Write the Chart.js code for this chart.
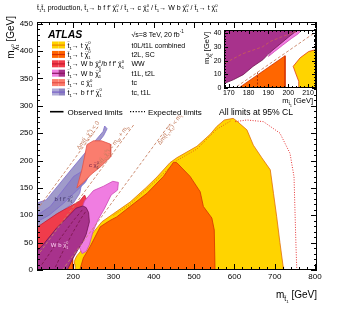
<!DOCTYPE html>
<html>
<head>
<meta charset="utf-8">
<script src="https://cdn.jsdelivr.net/npm/chart.js@4"></script>
<style>
html, body { margin: 0; padding: 0; background: #fff; }
#wrap { position: relative; width: 338px; height: 311px; }
#main { position: absolute; left: 0; top: 0; }
#inset { position: absolute; left: 198px; top: 22px; }
</style>
</head>
<body>
<div id="wrap">
  <canvas id="main" width="338" height="311"></canvas>
  <canvas id="inset" width="122" height="88"></canvas>
</div>
<script>
const FONT = '"Liberation Sans", Arial, Helvetica, sans-serif';

// axis ticks
const xTicks = [200, 300, 400, 500, 600, 700, 800];
const yTicks = [0, 50, 100, 150, 200, 250, 300, 350, 400, 450];
const insetXTicks = [170, 180, 190, 200, 210];
const insetYTicks = [0, 10, 20, 30, 40];

// legend
const decayLabels = ['{t}→ t {x}', '{t}→ t {x}', '{t}→ W b {x}/b f f′ {x}', '{t}→ W b {x}', '{t}→ c {x}', '{t}→ b f f′ {x}'];
const analysisLabels = ['t0L/t1L combined', 't2L, SC', 'WW', 't1L, t2L', 'tc', 'tc, t1L'];
const titleText = '{t}{t} production, {t}→ b f f′ {x} / {t}→ c {x} / {t}→ W b {x} / {t}→ t {x}';

// excluded regions, [m_stop, m_chi] in GeV
const obsT0L1L = [[205,-3],[205,5],[204,11],[203,16],[206,22],[210,27],[217,33],[240,60],[271,88],[300,103],[341,124],[380,150],[408,170],[440,196],[457,205],[507,226],[540,248],[556,262],[575,274],[597,277],[606,272],[631,256],[647,228],[668,205],[689,183],[697,140],[705,97],[713,50],[721,6],[722,-3]];
const obsT2L = [[215,-3],[225,22],[242,43],[267,79],[290,90],[308,97],[341,116],[383,140],[424,171],[449,197],[457,196],[490,171],[515,143],[523,116],[544,95],[550,73],[552,-3]];
const obsT2LLow = [[174,-3],[174,0],[198.4,23.5],[198.4,-3]];
const obsBffTc = [[100,80],[100,120],[133,128],[200,188],[250,232],[274,253],[278,263],[284,258],[275,245],[262,233],[245,212],[232,190],[222,162],[216,140],[200,122],[150,97],[100,72]];
const obsBffT1L = [[100,95],[143,116],[201,171],[232,185],[242,176],[230,160],[176,122],[140,100],[100,84]];
const obsWW = [[100,72],[112,79],[160,103],[216,126],[228,137],[234,128],[226,112],[210,90],[195,70],[175,40],[160,15],[152,-3],[100,-3]];
const obsT2LWb = [[210,50],[215,100],[228,126],[250,145],[275,153],[298,162],[312,160],[310,146],[294,137],[278,113],[261,91],[249,70],[240,46],[232,34],[222,30]];
const obsT1LWb = [[100,-3],[100,30],[108,33],[125,46],[158,76],[190,100],[207,113],[224,117],[232,114],[238,105],[240,88],[232,65],[224,52],[210,35],[199,21],[183,-3]];
const obsTc = [[209,150],[222,185],[234,229],[250,236],[270,236],[292,230],[293,207],[270,190],[245,175],[225,160]];
// expected limits
const expT0L1L = [[602,271],[631,274],[672,271],[713,250],[738,213],[748,170],[751,91],[753,40],[755,-3]];
const expT0L1LTop = [[300,100],[341,120],[408,165],[457,200],[507,221],[556,257],[590,272]];
const expT1LWb = [[150,-3],[175,35],[200,70],[220,95],[232,108]];
const expT1LWb2 = [[122,10],[160,50],[200,90],[225,112]];
// kinematic boundaries
const kinDm0 = [[110,110],[262,262]];
const kinDmWb = [[110,25],[350,265]];
const kinDmTop = [[173,0],[440,267]];
const kinLabels = ['Δm({t},{x}) < 0', 'Δm({t},{x}) < {mW} + {mb}', 'Δm({t},{x}) < {mtop}'];
const kinLabelPos = [[236, 246], [294, 224], [439, 257]];

// inset (low mass) regions
const insetT1LWb = [[166,3],[168.2,3.6],[172.3,6],[177.3,9.7],[182.2,15.7],[187.2,20.6],[189.6,24.2],[191.3,26.6],[195.4,31.5],[200.4,37.5],[203.7,41.2],[205,44],[166,44]];
const insetT2LWb = [[190,23],[193,26.5],[197,31],[201.5,36],[205,39.5],[208,44],[205,44],[203.7,41.2],[200.4,37.5],[195.4,31.5],[191.3,26.6]];
const insetT2L = [[174,-1],[198.4,23.5],[198.4,-1]];
const insetT0L1L = [[205.3,-1],[205.3,4.8],[203.7,10.9],[202.5,15.8],[206,22],[210.3,26.6],[214,28],[216,28],[216,-1]];
const insetExpT1L = [[166,16.5],[177,25],[187,30],[191,34],[197,37.5],[205,41.5],[210,44]];
const insetExpT2L = [[184.5,0],[184.5,11.5]];
const insetKinTop = [[172,-1],[216,43]];

const YELLOW = 'rgb(255,212,0)', ORANGE = 'rgb(255,102,0)', RED = 'rgb(240,60,75)';
const PINK = 'rgb(240,125,225)', MAG = 'rgb(168,50,140)', SALMON = 'rgb(250,125,110)';
const LAV = 'rgb(160,155,202)', LAV2 = 'rgb(142,132,193)', KIN = 'rgb(200,130,100)';

// ---- rich text helpers ----
const N = t => ({t: t, s: 1, dy: 0});
const STOP = [N('t'), {t: '~', s: 0.6, dy: -0.62, mode: 'over'}, {t: '1', s: 0.62, dy: 0.32}];
const CHI = [N('\u03c7'), {t: '~', s: 0.6, dy: -0.5, mode: 'over'}, {t: '0', s: 0.6, dy: -0.5, mode: 'noadv'}, {t: '1', s: 0.6, dy: 0.32}];
const sub = segs => segs.map(g => Object.assign({}, g, {s: g.s * 0.7, dy: g.dy * 0.7 + 0.3}));
const TOK = {
  '{t}': STOP, '{x}': CHI,
  '{mx}': [N('m')].concat(sub(CHI)), '{mt1}': [N('m')].concat(sub(STOP)),
  '{mW}': [N('m'), {t: 'W', s: 0.7, dy: 0.3}], '{mb}': [N('m'), {t: 'b', s: 0.7, dy: 0.3}],
  '{mtop}': [N('m'), {t: 't', s: 0.7, dy: 0.3}], '{-1}': [{t: '-1', s: 0.65, dy: -0.45}]
};
function parse(str) {
  return str.split(/(\{[^}]+\})/).filter(s => s).flatMap(s => TOK[s] || [N(s)]);
}
function rich(ctx, str, x, y, size, align, color, weight) {
  const segs = parse(str);
  const font = g => (weight || '') + ' ' + (size * g.s).toFixed(2) + 'px ' + FONT;
  let cx = 0, prevW = 0;
  const items = [];
  for (const g of segs) {
    ctx.font = font(g);
    const w = ctx.measureText(g.t).width;
    if (g.mode === 'over') items.push({g, x: cx - prevW / 2 - w / 2});
    else if (g.mode === 'noadv') items.push({g, x: cx});
    else { items.push({g, x: cx}); prevW = w; cx += w; }
  }
  const x0 = align === 'right' ? x - cx : align === 'center' ? x - cx / 2 : x;
  ctx.fillStyle = color;
  ctx.textAlign = 'left';
  ctx.textBaseline = 'alphabetic';
  for (const it of items) {
    ctx.font = font(it.g);
    ctx.fillText(it.g.t, x0 + it.x, y + it.g.dy * size);
  }
  return cx;
}

function drawFrame(ctx, a, xs, ys, o) {
  ctx.strokeStyle = '#000';
  ctx.lineWidth = 1;
  ctx.setLineDash([]);
  ctx.strokeRect(a.left + 0.5, a.top + 0.5, a.right - a.left - 1, a.bottom - a.top - 1);
  ctx.beginPath();
  for (let v = Math.ceil(xs.min / o.xMin) * o.xMin; v <= xs.max; v += o.xMin) {
    const px = Math.round(xs.getPixelForValue(v)) + 0.5;
    const L = Math.abs(v / o.xMaj - Math.round(v / o.xMaj)) < 1e-6 ? o.lMaj : o.lMin;
    ctx.moveTo(px, a.bottom); ctx.lineTo(px, a.bottom - L);
    ctx.moveTo(px, a.top); ctx.lineTo(px, a.top + L);
  }
  for (let v = Math.ceil(ys.min / o.yMin) * o.yMin; v <= ys.max; v += o.yMin) {
    const py = Math.round(ys.getPixelForValue(v)) + 0.5;
    const L = Math.abs(v / o.yMaj - Math.round(v / o.yMaj)) < 1e-6 ? o.lMaj : o.lMin;
    ctx.moveTo(a.left, py); ctx.lineTo(a.left + L, py);
    ctx.moveTo(a.right, py); ctx.lineTo(a.right - L, py);
  }
  ctx.stroke();
}

function toXY(pts) { return pts.map(p => ({x: p[0], y: p[1]})); }
function region(pts, fillColor, lineColor, order) {
  const d = toXY(pts);
  d.push(Object.assign({}, d[0]));
  return {data: d, showLine: true, fill: 'shape', backgroundColor: fillColor, borderColor: lineColor,
    borderWidth: 0.8, pointRadius: 0, order: order};
}
function curve(pts, color, dash, width, order) {
  return {data: toXY(pts), showLine: true, fill: false, borderColor: color, borderDash: dash,
    borderWidth: width, pointRadius: 0, order: order};
}

function scaleOpts(min, max, ticks, fit, size, pad) {
  return {
    type: 'linear', min: min, max: max,
    afterBuildTicks: s => { s.ticks = ticks.map(v => ({value: v})); },
    afterFit: fit,
    grid: {display: false, drawTicks: false},
    border: {display: false},
    ticks: {font: {family: FONT, size: size}, color: '#000', padding: pad, maxRotation: 0, autoSkip: false}
  };
}

const legendFills = [
  [YELLOW, YELLOW, 'rgb(235,130,0)'],
  [ORANGE, ORANGE, 'rgb(215,45,0)'],
  [RED, RED, 'rgb(200,25,45)'],
  [PINK, MAG, 'rgb(140,20,100)'],
  [SALMON, SALMON, 'rgb(230,80,70)'],
  ['rgb(175,170,215)', LAV2, 'rgb(120,95,200)']
];
const legendRowY = [45, 54.4, 63.8, 73.2, 82.6, 92];

const mainDecor = {
  id: 'mainDecor',
  afterDraw(chart) {
    const ctx = chart.ctx, a = chart.chartArea, xs = chart.scales.x, ys = chart.scales.y;
    ctx.save();
    drawFrame(ctx, a, xs, ys, {xMaj: 100, xMin: 20, yMaj: 50, yMin: 10, lMaj: 6, lMin: 3});

    // kinematic labels
    const ang = Math.atan2(ys.getPixelForValue(100) - ys.getPixelForValue(0), xs.getPixelForValue(100) - xs.getPixelForValue(0));
    kinLabels.forEach((lab, i) => {
      ctx.save();
      ctx.translate(xs.getPixelForValue(kinLabelPos[i][0]), ys.getPixelForValue(kinLabelPos[i][1]));
      ctx.rotate(ang);
      rich(ctx, lab, 0, 2, 6, 'center', 'rgb(195,125,95)');
      ctx.restore();
    });
    // region labels
    rich(ctx, 'b f f′ {x}', xs.getPixelForValue(176), ys.getPixelForValue(126), 6, 'center', 'rgb(60,50,100)');
    rich(ctx, 'c {x}', xs.getPixelForValue(251), ys.getPixelForValue(188), 6, 'center', 'rgb(120,30,70)');
    rich(ctx, 'W b {x}', xs.getPixelForValue(166), ys.getPixelForValue(42), 6, 'center', 'rgb(255,215,245)');

    // title and axis titles
    rich(ctx, titleText, 37, 10, 7, 'left', '#000');
    rich(ctx, '{mt1} [GeV]', 317, 298, 10, 'right', '#000');
    ctx.save();
    ctx.translate(14, 16);
    ctx.rotate(-Math.PI / 2);
    rich(ctx, '{mx} [GeV]', 0, 0, 10, 'right', '#000');
    ctx.restore();

    // legend
    rich(ctx, 'ATLAS', 48, 37.5, 10.5, 'left', '#000', 'italic bold');
    rich(ctx, '√s=8 TeV, 20 fb{-1}', 131.5, 36.5, 7, 'left', '#000');
    legendRowY.forEach((cy, i) => {
      const f = legendFills[i];
      ctx.fillStyle = f[0];
      ctx.fillRect(52, cy - 3.5, 6.5, 7);
      ctx.fillStyle = f[1];
      ctx.fillRect(58.5, cy - 3.5, 6.5, 7);
      ctx.fillStyle = f[2];
      ctx.fillRect(52, cy - 0.5, 13, 1.2);
      rich(ctx, decayLabels[i], 67.5, cy + 2.5, 7, 'left', '#000');
      rich(ctx, analysisLabels[i], 131.5, cy + 2.5, 7, 'left', '#000');
    });
    ctx.strokeStyle = '#000';
    ctx.lineWidth = 1.6;
    ctx.beginPath(); ctx.moveTo(50, 111.7); ctx.lineTo(63.5, 111.7); ctx.stroke();
    ctx.lineWidth = 1.2;
    ctx.setLineDash([1.2, 1.6]);
    ctx.beginPath(); ctx.moveTo(130, 111.7); ctx.lineTo(145, 111.7); ctx.stroke();
    ctx.setLineDash([]);
    rich(ctx, 'Observed limits', 67.5, 114.5, 8, 'left', '#000');
    rich(ctx, 'Expected limits', 148, 114.5, 8, 'left', '#000');
    rich(ctx, 'All limits at 95% CL', 219, 114.5, 8.6, 'left', '#000');
    ctx.restore();
  }
};

new Chart(document.getElementById('main'), {
  type: 'scatter',
  data: {
    datasets: [
      region(obsT0L1L, YELLOW, 'rgb(225,110,10)', 20),
      region(obsT2L, ORANGE, 'rgb(210,50,0)', 19),
      region(obsT2LLow, ORANGE, 'rgb(210,50,0)', 19),
      region(obsBffTc, LAV, 'rgb(125,105,205)', 18),
      region(obsBffT1L, LAV2, 'rgb(125,105,205)', 17),
      region(obsWW, RED, 'rgb(200,30,50)', 16),
      region(obsT2LWb, PINK, 'rgb(205,70,180)', 15),
      region(obsT1LWb, MAG, 'rgb(110,20,80)', 14),
      region(obsTc, SALMON, 'rgb(225,80,70)', 13),
      curve(expT0L1L, 'rgb(230,50,50)', [1, 1.5], 1, 6),
      curve(expT0L1LTop, 'rgb(225,80,20)', [1, 1.5], 0.8, 6),
      curve(expT1LWb, 'rgb(120,20,70)', [3, 2], 0.8, 6),
      curve(expT1LWb2, 'rgb(120,20,70)', [3, 2], 0.8, 6),
      curve(kinDm0, KIN, [3, 2], 0.9, 2),
      curve(kinDmWb, KIN, [3, 2], 0.9, 2),
      curve(kinDmTop, KIN, [3, 2], 0.9, 2)
    ]
  },
  options: {
    responsive: false,
    animation: false,
    layout: {padding: {top: 22, right: 21, left: 0, bottom: 0}},
    plugins: {legend: {display: false}, tooltip: {enabled: false}},
    scales: {
      x: scaleOpts(110, 805, xTicks, s => { s.height = 41; }, 8, 2),
      y: scaleOpts(0, 453, yTicks, s => { s.width = 37; }, 8, 4)
    }
  },
  plugins: [mainDecor]
});

const insetDecor = {
  id: 'insetDecor',
  afterDraw(chart) {
    const ctx = chart.ctx, a = chart.chartArea, xs = chart.scales.x, ys = chart.scales.y;
    ctx.save();
    drawFrame(ctx, a, xs, ys, {xMaj: 10, xMin: 2, yMaj: 10, yMin: 2, lMaj: 4, lMin: 2});
    rich(ctx, '{mt1} [GeV]', 115, 81, 7.5, 'right', '#000');
    ctx.translate(11, 10);
    ctx.rotate(-Math.PI / 2);
    rich(ctx, '{mx} [GeV]', 0, 0, 7.5, 'right', '#000');
    ctx.restore();
  }
};

new Chart(document.getElementById('inset'), {
  type: 'scatter',
  data: {
    datasets: [
      region(insetT0L1L, YELLOW, 'rgb(225,60,20)', 20),
      region(insetT2L, ORANGE, 'rgb(210,50,0)', 19),
      region(insetT2LWb, PINK, 'rgb(205,70,180)', 15),
      region(insetT1LWb, MAG, 'rgb(110,20,80)', 14),
      curve(insetExpT1L, 'rgb(200,90,90)', [3, 2], 0.9, 6),
      curve(insetExpT2L, 'rgb(150,30,0)', [2, 1.5], 0.8, 6),
      curve(insetKinTop, KIN, [3, 2], 0.9, 2)
    ]
  },
  options: {
    responsive: false,
    animation: false,
    layout: {padding: {top: 8, right: 4, left: 0, bottom: 0}},
    plugins: {legend: {display: false}, tooltip: {enabled: false}},
    scales: {
      x: scaleOpts(167.6, 214, insetXTicks, s => { s.height = 22; }, 7, 1),
      y: scaleOpts(0, 42.3, insetYTicks, s => { s.width = 26; }, 7, 2.5)
    }
  },
  plugins: [insetDecor]
});
</script>
</body>
</html>
